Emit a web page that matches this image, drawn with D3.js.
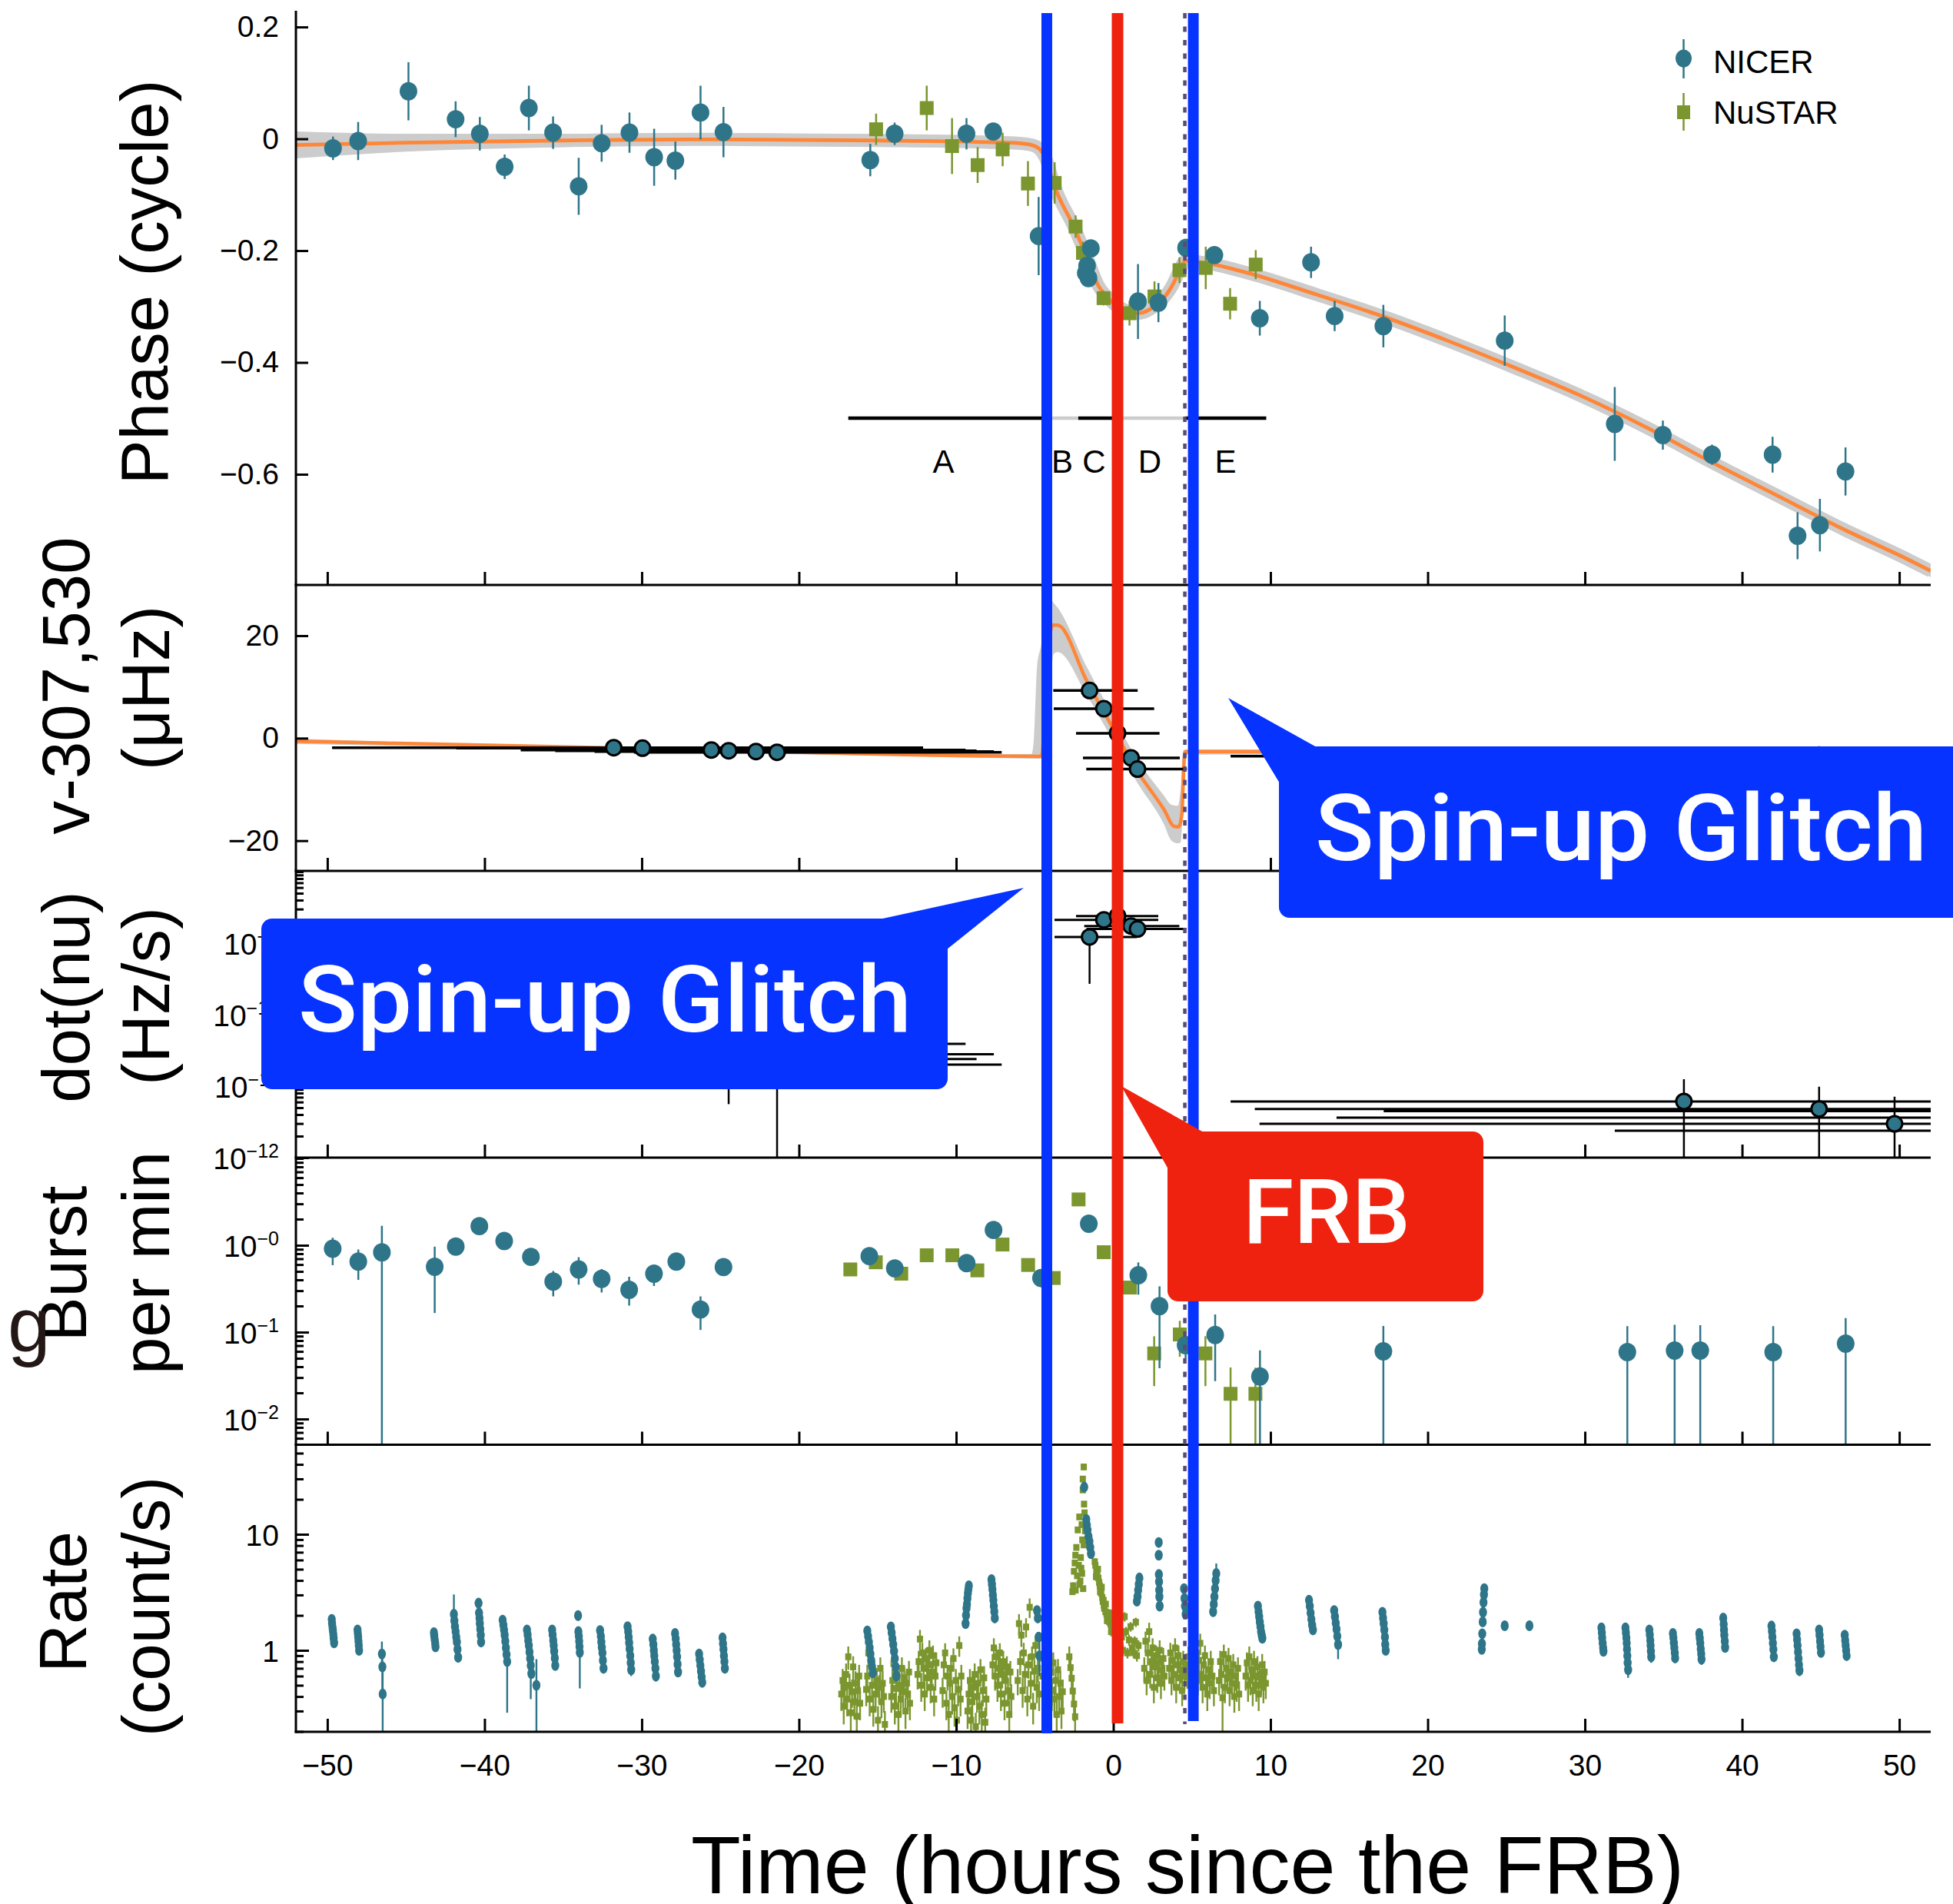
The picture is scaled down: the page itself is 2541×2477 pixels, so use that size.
<!DOCTYPE html>
<html>
<head>
<meta charset="utf-8">
<script src="https://cdn.jsdelivr.net/npm/d3@7"></script>
<style>
  html, body { margin: 0; padding: 0; background: #fff; }
  svg { display: block; }
</style>
</head>
<body>
<svg id="chart" width="2541" height="2477"></svg>
<script>
// ---------------- data ----------------
const xTickValues = [-50, -40, -30, -20, -10, 0, 10, 20, 30, 40, 50];

// event times (hours since the FRB)
const glitchTimes = [-4.23, 5.09];
const frbTime = 0.27;
const dottedTime = 4.55;

// timing periods shown under the phase curve
const periodEdges = [-16.86, -4.23, -2.23, 0.27, 4.55, 9.73];
const periodNames = ["A", "B", "C", "D", "E"];
const periodLabelAt = [-10.8, -3.25, -1.23, 2.32, 7.14];
const periodShade = ["#000", "#cccccc", "#000", "#cccccc", "#000"];

// pulse phase (cycle): [t, phase, err]
const phaseNicer = [
  [-49.64,-0.017,0.021],[-48.04,-0.004,0.034],[-44.84,0.085,0.052],[-41.84,0.035,0.032],
  [-40.30,0.009,0.030],[-38.72,-0.050,0.022],[-37.18,0.055,0.040],[-35.64,0.011,0.029],
  [-34.01,-0.085,0.051],[-32.55,-0.008,0.033],[-30.78,0.011,0.036],[-29.21,-0.033,0.051],
  [-27.86,-0.039,0.034],[-26.26,0.047,0.048],[-24.80,0.012,0.045],[-15.46,-0.038,0.029],
  [-13.91,0.009,0.020],[-9.34,0.009,0.028],[-7.64,0.013,0.008],[-4.75,-0.174,0.070],
  [-1.43,-0.196,0.015],[-1.67,-0.227,0.012],[-1.75,-0.240,0.012],[-1.58,-0.249,0.012],
  [1.57,-0.291,0.067],[2.87,-0.293,0.035],[4.63,-0.195,0.015],[6.43,-0.208,0.015],
  [9.32,-0.321,0.031],[12.58,-0.221,0.028],[14.08,-0.317,0.027],[17.18,-0.335,0.038],
  [24.90,-0.361,0.045],[31.90,-0.510,0.066],[34.96,-0.530,0.026],[38.09,-0.565,0.018],
  [41.94,-0.565,0.032],[43.53,-0.710,0.042],[44.95,-0.691,0.047],[46.58,-0.595,0.043]
];
const phaseNustar = [
  [-15.09,0.017,0.028],[-11.87,0.055,0.040],[-10.26,-0.013,0.050],[-8.63,-0.047,0.032],
  [-7.04,-0.019,0.030],[-5.43,-0.080,0.040],[-3.73,-0.079,0.037],[-2.40,-0.157,0.020],
  [-1.93,-0.204,0.020],[-0.62,-0.285,0.013],[1.03,-0.312,0.022],[2.62,-0.282,0.027],
  [4.21,-0.235,0.023],[5.88,-0.231,0.038],[7.43,-0.295,0.028],[9.06,-0.225,0.026]
];
// timing model: [t, phase, half width of the uncertainty band]
const phaseModel = [
  [-52,-0.011,0.024],[-45,-0.007,0.016],[-35,-0.003,0.012],[-27,-0.001,0.011],[-15,-0.003,0.011],
  [-8,-0.006,0.011],[-6,-0.008,0.011],[-5.2,-0.011,0.011],[-4.67,-0.019,0.012],[-4.3,-0.035,0.012],
  [-3.74,-0.085,0.012],[-2.48,-0.159,0.012],[-1.5,-0.225,0.012],[-1.02,-0.259,0.012],[-0.4,-0.283,0.012],
  [0.03,-0.295,0.012],[0.7,-0.306,0.012],[1.28,-0.312,0.012],[1.8,-0.311,0.012],[2.33,-0.305,0.012],
  [2.9,-0.293,0.012],[3.37,-0.279,0.012],[3.8,-0.26,0.012],[4.21,-0.235,0.012],[4.45,-0.222,0.012],
  [4.62,-0.218,0.011],[5.0,-0.219,0.011],[5.88,-0.222,0.011],[8.81,-0.242,0.011],[12.98,-0.279,0.011],
  [17.18,-0.318,0.011],[21.35,-0.362,0.011],[25.5,-0.409,0.011],[29.7,-0.459,0.011],[33.9,-0.516,0.011],
  [38.1,-0.579,0.011],[42.3,-0.639,0.011],[46.5,-0.699,0.011],[50.6,-0.753,0.011],[52,-0.773,0.011]
];

// spin frequency offset (μHz): model [t, value] and band [t, lo, hi]
const nuModel = [
  [-52,-0.6],[-30,-2.0],[-7,-3.5],[-4.7,-3.55],[-4.55,-3.3],[-4.3,8],[-3.95,21.5],[-3.82,22.05],
  [-3.55,22.05],[-1.67,11.05],[-0.04,2.05],[1.59,-6.69],[3.22,-13.9],[3.87,-17.2],[4.15,-17.3],
  [4.36,-14.9],[4.52,-3.9],[4.61,-2.6],[52,-2.6]
];
const nuBand = [
  [-52,-1.1,-0.1],[-7,-3.9,-3.1],[-5.2,-4.0,-3.1],[-5.05,-4.0,0],[-4.85,-4.0,14],[-4.6,-4.0,18],
  [-4.3,-3.0,24],[-3.95,12,27],[-3.82,16.3,26.5],[-3.55,16.8,25.5],[-1.67,8.3,13.8],[-0.04,-0.4,4.4],
  [1.59,-9.0,-4.4],[3.22,-16.8,-11.2],[3.7,-20.0,-13.0],[4.1,-20.5,-13.2],[4.28,-20.4,-10],
  [4.45,-12,-2.4],[4.6,-3.2,-2.2],[52,-3.1,-2.2]
];
// measured frequency: [t, value, t_lo, t_hi]
const nuObs = [
  [-31.78,-1.86,-49.7,-12.1],[-29.95,-1.95,-41.8,-13.3],[-25.57,-2.3,-37.7,-9.4],
  [-24.47,-2.45,-35.5,-8.7],[-22.73,-2.6,-33.0,-7.6],[-21.39,-2.75,-30.5,-7.1],
  [-1.51,9.31,-3.82,1.55],[-0.60,5.76,-3.79,2.6],[0.27,0.96,-2.37,2.94],
  [1.13,-3.84,-1.93,4.23],[1.54,-6.04,-1.72,4.68],
  [36.3,-3.53,7.46,70],[44.9,-3.3,11.0,75],[49.7,-3.6,13.0,80]
];

// frequency derivative (Hz/s): [t, value, t_lo, t_hi, v_lo, v_hi]
const nuDot = [
  [-31.78,3.9e-11,-49.0,-9.4,3.3e-11,4.6e-11],[-29.95,2.4e-11,-46.0,-8.7,2.0e-11,2.9e-11],
  [-25.57,2.8e-11,-40.0,-7.6,2.3e-11,3.4e-11],[-24.47,2.0e-11,-38.0,-7.1,5.6e-12,3.5e-11],
  [-22.73,3.2e-11,-35.0,-11.0,2.6e-11,3.9e-11],[-21.39,1.26e-11,-33.0,-12.0,1e-14,2.2e-11],
  [-1.51,1.22e-9,-3.74,1.5,2.7e-10,1.4e-9],[-0.60,2.12e-9,-3.74,2.86,1.9e-9,2.35e-9],
  [0.27,2.4e-9,-2.37,2.86,2.15e-9,2.65e-9],[1.13,1.74e-9,-1.85,4.2,1.6e-9,1.9e-9],
  [1.54,1.58e-9,-1.7,4.65,1.45e-9,1.72e-9],
  [36.3,6.1e-12,7.46,70,1e-14,1.25e-11],[44.9,4.8e-12,9.0,75,1e-14,9.8e-12],
  [49.7,2.97e-12,9.3,80,1e-14,7.1e-12],[57.0,4.48e-12,17.2,90,4e-12,5e-12],
  [60.0,3.63e-12,14.2,95,3.3e-12,4e-12],[63.0,2.38e-12,31.9,100,2.2e-12,2.6e-12]
];

// burst rate (per min): [t, rate, lo, hi]
const burstNicer = [
  [-49.66,0.914,0.59,1.22],[-48.03,0.649,0.40,0.895],[-46.53,0.83,0.0001,1.67],[-43.17,0.566,0.166,0.964],
  [-41.83,0.964,0.9,1.03],[-40.33,1.66,1.55,1.77],[-38.75,1.12,1.05,1.2],[-37.05,0.735,0.66,0.81],
  [-35.63,0.382,0.258,0.506],[-34.01,0.527,0.352,0.728],[-32.55,0.41,0.286,0.532],[-30.8,0.307,0.202,0.434],
  [-29.22,0.471,0.34,0.59],[-27.8,0.649,0.54,0.75],[-26.26,0.182,0.106,0.258],[-24.8,0.561,0.46,0.68],
  [-15.52,0.75,0.68,0.82],[-13.9,0.542,0.49,0.6],[-9.33,0.622,0.5,0.68],[-7.62,1.5,1.4,1.6],
  [-4.6,0.42,0.33,0.5],[-1.56,1.77,1.65,1.9],[1.59,0.452,0.27,0.635],[2.94,0.199,0.0384,0.337],
  [4.6,0.0708,0.05,0.09],[6.48,0.0927,0.0273,0.16],[9.33,0.0309,0.0001,0.0617],[17.18,0.0601,0.0001,0.118],
  [32.7,0.0589,0.0001,0.117],[35.71,0.0614,0.0001,0.1216],[37.34,0.0614,0.0001,0.12],
  [41.98,0.0589,0.0001,0.117],[46.59,0.0738,0.0001,0.145]
];
const burstNustar = [
  [-16.73,0.527,0.5,0.55],[-15.11,0.637,0.6,0.67],[-13.49,0.471,0.45,0.5],[-11.87,0.767,0.73,0.8],
  [-10.24,0.767,0.73,0.8],[-8.65,0.514,0.49,0.54],[-7.05,1.02,0.97,1.07],[-5.42,0.593,0.56,0.62],
  [-3.79,0.42,0.4,0.44],[-2.21,3.37,3.2,3.5],[-0.61,0.832,0.79,0.87],[1.05,0.326,0.3,0.35],
  [2.6,0.0569,0.0239,0.0897],[4.23,0.094,0.052,0.135],[5.86,0.0569,0.0239,0.0897],
  [7.46,0.0195,0.0001,0.0392],[9.04,0.0195,0.0001,0.039]
];

// count rate (count/s): [t, rate, err] or [t, rate, lo, hi]
const rateNicer = [
  [-49.72,1.85,0.1],[-49.7,1.7,0.1],[-49.67,1.58,0.09],[-49.65,1.48,0.09],[-49.62,1.38,0.09],[-49.6,1.27,0.08],[-49.57,1.16,0.08],
  [-48.08,1.5,0.09],[-48.06,1.4,0.09],[-48.04,1.3,0.08],[-48.02,1.2,0.08],[-48.0,1.1,0.08],[-47.98,1.0,0.07],
  [-46.53,0.93,0.26],[-46.5,0.72,0.3],[-46.48,0.42,0.0001,0.75],
  [-43.22,1.42,0.1],[-43.2,1.33,0.09],[-43.17,1.24,0.09],[-43.14,1.15,0.08],[-43.12,1.07,0.08],
  [-41.95,2.05,1.69,3.03],[-41.92,1.8,0.12],[-41.88,1.6,0.1],[-41.84,1.45,0.1],[-41.8,1.3,0.09],[-41.76,1.18,0.08],[-41.72,1.02,0.08],[-41.68,0.87,0.07],
  [-40.38,2.55,0.12],[-40.35,2.1,0.11],[-40.32,1.9,0.1],[-40.3,1.7,0.1],[-40.27,1.52,0.09],[-40.24,1.35,0.09],[-40.22,1.18,0.08],
  [-38.85,1.82,0.11],[-38.8,1.65,0.1],[-38.76,1.5,0.1],[-38.72,1.35,0.09],[-38.68,1.2,0.09],[-38.64,1.05,0.08],[-38.6,0.92,0.08],[-38.56,0.8,0.29,1.0],
  [-37.3,1.5,0.09],[-37.26,1.36,0.09],[-37.22,1.22,0.08],[-37.18,1.1,0.08],[-37.14,0.97,0.07],[-37.1,0.85,0.07],[-37.06,0.74,0.38,0.9],[-37.02,0.63,0.06],
  [-36.7,0.5,0.0001,0.84],
  [-35.7,1.5,0.09],[-35.67,1.36,0.09],[-35.63,1.22,0.08],[-35.6,1.1,0.08],[-35.57,0.98,0.07],[-35.53,0.86,0.07],[-35.5,0.74,0.06],
  [-34.05,1.99,0.1],[-34.03,1.45,0.09],[-34.0,1.32,0.09],[-33.98,1.2,0.08],[-33.96,1.08,0.08],[-33.94,0.96,0.47,1.1],
  [-32.65,1.48,0.09],[-32.6,1.32,0.09],[-32.57,1.18,0.08],[-32.54,1.06,0.08],[-32.5,0.95,0.07],[-32.47,0.82,0.07],[-32.43,0.7,0.06],
  [-30.9,1.6,0.1],[-30.86,1.45,0.09],[-30.83,1.3,0.09],[-30.8,1.16,0.08],[-30.77,1.03,0.08],[-30.73,0.9,0.07],[-30.7,0.78,0.07],[-30.67,0.68,0.08],
  [-29.3,1.25,0.09],[-29.26,1.12,0.08],[-29.23,1.0,0.08],[-29.2,0.9,0.07],[-29.17,0.8,0.07],[-29.13,0.7,0.06],[-29.1,0.6,0.06],
  [-27.88,1.4,0.09],[-27.84,1.26,0.09],[-27.81,1.12,0.08],[-27.78,1.0,0.08],[-27.75,0.88,0.07],[-27.72,0.76,0.07],[-27.69,0.65,0.06],
  [-26.35,0.93,0.07],[-26.31,0.83,0.07],[-26.27,0.74,0.06],[-26.23,0.66,0.06],[-26.19,0.59,0.05],[-26.15,0.53,0.05],
  [-24.86,1.28,0.09],[-24.83,1.14,0.08],[-24.8,1.02,0.08],[-24.77,0.9,0.07],[-24.74,0.8,0.07],[-24.71,0.7,0.06],
  [-15.65,1.47,0.1],[-15.6,1.32,0.09],[-15.55,1.18,0.08],[-15.5,1.05,0.08],[-15.45,0.93,0.07],[-15.4,0.82,0.07],[-15.35,0.72,0.06],[-15.3,0.64,0.06],
  [-14.15,1.59,0.1],[-14.1,1.42,0.09],[-14.05,1.26,0.09],[-14.0,1.12,0.08],[-13.95,0.98,0.08],[-13.9,0.85,0.07],[-13.85,0.72,0.07],[-13.8,0.6,0.06],
  [-9.4,1.7,0.1],[-9.37,2.0,0.1],[-9.34,2.3,0.12],[-9.31,2.5,0.12],[-9.28,2.8,0.13],[-9.25,3.1,0.14],[-9.22,3.35,0.15],[-9.19,3.6,0.16],
  [-7.75,4.07,0.16],[-7.72,3.7,0.15],[-7.69,3.35,0.14],[-7.66,3.0,0.13],[-7.63,2.7,0.12],[-7.6,2.4,0.12],[-7.57,2.15,0.11],[-7.54,1.9,0.1],
  [-4.85,2.2,0.12],[-4.8,1.9,0.1],[-4.75,1.3,0.09],[-4.7,0.9,0.3],
  [-1.85,25.5,1.2],[-1.72,13.4,0.8],[-1.68,12.0,0.7],[-1.64,10.9,0.6],[-1.58,9.6,0.5],[-1.52,8.7,0.5],[-1.47,7.7,0.4],[-1.42,6.8,0.4],
  [1.5,2.65,0.12],[1.54,2.9,0.13],[1.58,3.3,0.14],[1.62,3.7,0.15],[1.66,4.2,0.16],
  [2.89,8.5,0.4],[2.89,6.6,0.35],[2.9,4.5,0.25],[2.91,3.9,0.2],[2.92,3.3,0.18],[2.93,2.9,0.16],[2.95,2.4,0.14],
  [4.5,3.4,0.16],[4.53,2.8,0.14],[4.56,2.4,0.12],[4.6,2.05,0.11],
  [6.35,2.15,0.11],[6.39,2.5,0.12],[6.43,2.9,0.13],[6.47,3.4,0.15],[6.51,4.0,0.17],[6.55,4.6,4.3,5.6],
  [9.2,2.4,0.12],[9.24,2.15,0.11],[9.28,1.95,0.1],[9.32,1.75,0.1],[9.36,1.6,0.09],[9.4,1.45,0.09],[9.44,1.35,0.08],[9.48,1.27,0.08],
  [12.45,2.7,0.13],[12.5,2.4,0.12],[12.55,2.1,0.11],[12.6,1.85,0.1],[12.65,1.65,0.09],[12.7,1.5,0.09],
  [14.05,2.2,0.12],[14.1,1.95,0.11],[14.15,1.72,0.1],[14.2,1.52,0.09],[14.25,1.32,0.08],[14.3,1.12,0.28],
  [17.12,2.13,0.11],[17.16,1.9,0.1],[17.2,1.7,0.1],[17.24,1.5,0.09],[17.28,1.3,0.08],[17.3,1.12,0.2],[17.33,1.0,0.08],
  [23.6,3.4,0.16],[23.58,3.02,0.15],[23.55,2.59,0.13],[23.52,2.13,0.11],[23.5,1.76,0.1],[23.47,1.39,0.09],[23.45,1.14,0.08],[23.44,1.02,0.07],
  [24.9,1.63,0.09],[26.47,1.63,0.12],
  [31.05,1.56,0.09],[31.08,1.42,0.09],[31.1,1.28,0.08],[31.13,1.15,0.08],[31.16,1.05,0.07],[31.18,0.98,0.07],
  [32.58,1.56,0.09],[32.61,1.42,0.09],[32.64,1.28,0.08],[32.66,1.15,0.08],[32.68,1.02,0.07],[32.7,0.9,0.07],[32.72,0.78,0.07],[32.75,0.68,0.1],
  [34.1,1.5,0.09],[34.13,1.36,0.09],[34.16,1.22,0.08],[34.18,1.1,0.08],[34.2,0.98,0.07],[34.22,0.88,0.1],
  [35.6,1.4,0.09],[35.63,1.28,0.08],[35.66,1.16,0.08],[35.69,1.05,0.07],[35.72,0.95,0.07],[35.74,0.86,0.08],
  [37.28,1.4,0.09],[37.31,1.27,0.08],[37.34,1.15,0.08],[37.37,1.03,0.07],[37.4,0.93,0.07],[37.42,0.84,0.09],
  [38.8,1.9,0.1],[38.83,1.68,0.1],[38.85,1.5,0.09],[38.87,1.35,0.09],[38.9,1.2,0.08],[38.92,1.06,0.08],
  [41.87,1.62,0.1],[41.9,1.46,0.09],[41.93,1.3,0.08],[41.96,1.15,0.08],[41.99,1.02,0.07],[42.02,0.88,0.07],
  [43.47,1.39,0.09],[43.5,1.24,0.08],[43.53,1.1,0.08],[43.56,0.97,0.07],[43.59,0.85,0.07],[43.62,0.75,0.12],[43.65,0.67,0.07],
  [44.9,1.5,0.09],[44.93,1.35,0.09],[44.96,1.2,0.08],[44.99,1.08,0.08],[45.02,0.96,0.07],
  [46.53,1.35,0.08],[46.56,1.22,0.08],[46.59,1.1,0.07],[46.62,1.0,0.07],[46.65,0.9,0.07]
];
const rateNustar = [
  [-17.3,0.42,0.12],[-17.22,0.55,0.14],[-17.15,0.33,0.1],[-17.08,0.48,0.13],[-17.0,0.62,0.15],[-16.93,0.38,0.11],[-16.86,0.88,0.2],[-16.78,0.5,0.13],[-16.7,0.29,0.09],[-16.62,0.44,0.12],[-16.55,0.72,0.17],[-16.47,0.36,0.1],[-16.4,0.52,0.14],[-16.32,0.27,0.08],[-16.25,0.45,0.12],[-16.17,0.6,0.15],[-16.11,0.35,0.1],
  [-15.72,0.46,0.13],[-15.65,0.6,0.15],[-15.58,0.95,0.2],[-15.5,0.38,0.11],[-15.42,0.77,0.18],[-15.35,0.5,0.13],[-15.27,0.31,0.09],[-15.2,0.66,0.16],[-15.12,0.42,0.12],[-15.05,0.55,0.14],[-14.97,0.25,0.08],[-14.9,0.48,0.13],[-14.82,0.7,0.17],[-14.75,0.36,0.1],[-14.67,0.52,0.14],[-14.6,0.4,0.11],[-14.53,0.23,0.07],
  [-14.12,0.4,0.11],[-14.05,0.55,0.14],[-13.98,0.77,0.18],[-13.9,0.33,0.1],[-13.82,0.47,0.13],[-13.75,0.62,0.15],[-13.67,0.28,0.09],[-13.6,0.5,0.13],[-13.52,0.38,0.11],[-13.45,0.7,0.17],[-13.37,0.44,0.12],[-13.3,0.58,0.15],[-13.22,0.3,0.09],[-13.15,0.52,0.14],[-13.07,0.42,0.12],[-13.0,0.65,0.16],[-12.94,0.35,0.1],
  [-12.45,0.62,0.16],[-12.38,0.8,0.19],[-12.3,1.25,0.25],[-12.22,0.5,0.14],[-12.15,0.95,0.21],[-12.07,0.7,0.17],[-12.0,0.42,0.12],[-11.92,0.85,0.2],[-11.85,0.58,0.15],[-11.77,0.75,0.18],[-11.7,1.0,0.22],[-11.62,0.48,0.13],[-11.55,0.65,0.16],[-11.47,0.9,0.2],[-11.4,0.38,0.11],[-11.32,0.6,0.15],[-11.26,0.78,0.18],
  [-10.86,0.45,0.13],[-10.78,0.75,0.18],[-10.7,0.95,0.2],[-10.62,0.35,0.1],[-10.55,0.6,0.15],[-10.47,0.28,0.09],[-10.4,0.52,0.14],[-10.32,0.7,0.17],[-10.25,0.4,0.12],[-10.17,0.85,0.19],[-10.1,0.32,0.1],[-10.02,0.55,0.14],[-9.95,0.25,0.08],[-9.87,0.46,0.13],[-9.8,1.1,0.22],[-9.72,0.38,0.11],[-9.67,0.6,0.15],
  [-9.27,0.3,0.09],[-9.2,0.42,0.12],[-9.12,0.55,0.14],[-9.05,0.25,0.08],[-8.97,0.36,0.1],[-8.9,0.48,0.13],[-8.82,0.62,0.15],[-8.75,0.22,0.07],[-8.67,0.4,0.11],[-8.6,0.52,0.14],[-8.52,0.33,0.1],[-8.45,0.68,0.16],[-8.37,0.28,0.09],[-8.3,0.45,0.12],[-8.22,0.58,0.15],[-8.15,0.24,0.08],[-8.08,0.38,0.11],
  [-7.68,0.75,0.18],[-7.6,1.05,0.22],[-7.52,0.6,0.15],[-7.45,0.88,0.2],[-7.37,0.5,0.14],[-7.3,0.7,0.17],[-7.22,0.95,0.2],[-7.15,0.42,0.12],[-7.07,0.62,0.15],[-7.0,0.8,0.19],[-6.92,0.35,0.1],[-6.85,0.55,0.14],[-6.77,0.72,0.17],[-6.7,0.45,0.12],[-6.62,0.28,0.09],[-6.55,0.65,0.16],[-6.49,0.4,0.11],
  [-6.08,0.55,0.14],[-6.0,1.7,0.35],[-5.92,0.8,0.19],[-5.85,1.35,0.28],[-5.77,0.45,0.13],[-5.7,0.95,0.21],[-5.62,0.62,0.15],[-5.55,1.59,0.3],[-5.47,0.38,0.11],[-5.4,0.75,0.18],[-5.32,2.35,0.45],[-5.25,0.52,0.14],[-5.17,0.88,0.2],[-5.1,0.33,0.1],[-5.02,0.66,0.16],[-4.95,1.1,0.23],[-4.87,0.48,0.13],[-4.8,0.7,0.17],[-4.72,0.42,0.12],
  [-4.5,0.6,0.15],[-4.42,0.85,0.2],[-4.35,0.42,0.12],[-4.27,0.7,0.17],[-4.2,0.95,0.21],[-4.12,0.5,0.14],[-4.05,0.32,0.1],[-3.97,0.65,0.16],[-3.9,0.45,0.12],[-3.82,0.78,0.18],[-3.75,0.38,0.11],[-3.67,0.55,0.14],[-3.6,0.28,0.09],[-3.52,0.68,0.16],[-3.45,0.4,0.11],[-3.37,0.52,0.14],[-3.3,0.3,0.09],[-3.22,0.44,0.12],
  [-2.8,0.88,0.2],[-2.72,0.71,0.17],[-2.65,0.575,0.15],[-2.58,0.446,0.12],[-2.5,0.345,0.1],[-2.43,0.268,0.08],
  [-2.6,3.2,0.2],[-2.55,3.6,0.25],[-2.5,4.8,0.3],[-2.45,5.66,0.3],[-2.41,6.6,0.3],[-2.4,3.3,0.2],[-2.35,7.7,0.35],[-2.3,4.39,0.25],[-2.26,10.9,0.5],[-2.2,5.4,0.3],[-2.16,14.1,0.6],[-2.15,3.7,0.2],[-2.1,3.95,0.25],[-2.07,6.3,0.3],[-2.04,5.1,0.3],[-2.01,12.1,0.5],[-1.99,4.6,0.3],[-1.97,8.95,0.4],[-1.94,29.9,1.0],[-1.94,24.1,0.9],[-1.92,3.4,0.2],[-1.88,38,1.2],[-1.88,8.1,0.4],[-1.86,18.2,0.7],[-1.83,15.3,0.6],[-1.79,10.7,0.5],
  [-1.18,5.8,0.4],[-1.14,5.4,0.35],[-1.08,4.9,0.3],[-1.02,4.5,0.3],[-0.95,4.2,0.3],[-0.9,3.85,0.25],[-0.86,3.6,0.25],[-0.8,3.3,0.22],[-0.77,3.1,0.22],[-0.7,2.85,0.2],[-0.67,2.64,0.2],[-0.6,2.45,0.18],[-0.58,2.3,0.18],[-0.5,2.15,0.16],[-0.43,2.05,0.16],[-0.36,1.95,0.15],[-0.3,1.85,0.15],[-0.22,1.75,0.14],[-0.17,1.67,0.14],[-0.1,1.6,0.13],
  [-1.1,4.3,0.3],[-0.98,5.0,0.3],[-0.84,3.2,0.22],[-0.74,3.5,0.25],[-0.62,2.7,0.2],[-0.48,2.5,0.18],[-0.4,1.8,0.15],[-0.26,2.1,0.16],[-0.14,1.45,0.13],
  [0.02,1.5,0.15],[0.07,1.95,0.18],[0.15,1.4,0.14],[0.22,1.7,0.16],[0.3,1.25,0.13],[0.35,1.59,0.15],[0.45,1.1,0.12],[0.54,1.3,0.13],[0.62,1.0,0.11],[0.72,1.95,0.18],[0.8,1.45,0.14],[0.9,0.95,0.1],[1.0,1.23,0.13],[1.1,1.6,0.15],[1.19,1.05,0.11],[1.29,0.955,0.1],[1.36,1.2,0.12],[1.43,1.75,0.16],[1.5,0.9,0.1],[1.6,1.1,0.12],
  [1.97,0.7,0.17],[2.05,1.2,0.25],[2.12,0.55,0.14],[2.2,0.95,0.21],[2.28,1.45,0.28],[2.35,0.62,0.15],[2.43,0.8,0.19],[2.5,1.05,0.22],[2.58,0.48,0.13],[2.65,0.72,0.17],[2.73,0.9,0.2],[2.8,0.58,0.15],[2.88,0.78,0.18],[2.95,1.0,0.22],[3.03,0.52,0.14],[3.1,0.68,0.16],[3.18,0.85,0.2],[3.25,0.6,0.15],
  [3.56,0.7,0.17],[3.63,0.95,0.21],[3.7,0.55,0.14],[3.78,0.82,0.19],[3.85,0.62,0.15],[3.93,1.05,0.22],[4.0,0.48,0.13],[4.08,0.75,0.18],[4.15,0.9,0.2],[4.23,0.58,0.15],[4.3,0.68,0.16],[4.38,0.45,0.12],[4.45,0.8,0.19],[4.53,0.6,0.15],[4.6,0.72,0.17],
  [4.7,0.65,0.16],[4.78,0.88,0.2],[4.85,0.5,0.14],[4.93,1.0,0.22],[5.0,0.6,0.15],[5.08,0.78,0.18],[5.15,0.45,0.12],[5.23,0.95,0.21],[5.3,0.7,0.17],[5.38,0.55,0.14],[5.45,0.82,0.19],[5.53,1.15,0.24],[5.6,0.62,0.15],[5.68,0.48,0.13],[5.75,0.75,0.18],[5.83,0.9,0.2],[5.9,0.58,0.15],[5.98,0.42,0.12],[6.05,0.68,0.16],[6.13,0.52,0.14],[6.2,0.8,0.19],[6.3,0.6,0.15],[6.4,0.45,0.12],
  [6.73,0.55,0.14],[6.8,0.8,0.19],[6.88,0.62,0.15],[6.95,0.39,0.0001,0.5],[7.03,0.92,0.2],[7.1,0.48,0.13],[7.18,0.7,0.17],[7.25,0.58,0.15],[7.33,0.85,0.2],[7.4,0.45,0.12],[7.48,0.65,0.16],[7.55,0.52,0.14],[7.63,0.75,0.18],[7.7,0.4,0.11],[7.78,0.6,0.15],[7.85,0.5,0.14],[7.93,0.7,0.17],[8.0,0.42,0.12],
  [8.42,0.6,0.15],[8.5,0.78,0.18],[8.57,0.5,0.14],[8.65,0.88,0.2],[8.72,0.55,0.14],[8.8,0.68,0.16],[8.87,0.45,0.12],[8.95,0.8,0.19],[9.02,0.6,0.15],[9.1,0.5,0.14],[9.17,0.72,0.17],[9.25,0.42,0.12],[9.32,0.62,0.15],[9.4,0.55,0.14],[9.47,0.75,0.18],[9.55,0.48,0.13],[9.62,0.65,0.16],[9.7,0.52,0.14]
];

// ---------------- layout & scales ----------------
const FONT = '"Liberation Sans", Arial, Helvetica, sans-serif';
const CALLOUT_FONT = 'Roboto, "Liberation Sans", Arial, sans-serif';
const NICER = "#2f7589", NUSTAR = "#7b962f", ORANGE = "#ff8637", BAND = "#cccccc";
const BLUE = "#0633ff", RED = "#ee220f", DOTS = "#5a4a78";
const X0 = 385, X1 = 2512;

const panels = {
  phase: { top: 14, bottom: 761 },
  nu: { top: 761, bottom: 1133 },
  dot: { top: 1133, bottom: 1506 },
  burst: { top: 1506, bottom: 1879.5 },
  rate: { top: 1879.5, bottom: 2253 }
};

const x = d3.scaleLinear().domain([-52, 52]).range([X0, X1]);
const yPhase = d3.scaleLinear().domain([-0.798, 0.229]).range([761, 14]);
const yNu = d3.scaleLinear().domain([-25.9, 29.9]).range([1133, 761]);
const yDot = d3.scaleLog().domain([1e-12, 1e-8]).range([1506, 1134]);
const yBurst = d3.scaleLog().domain([Math.pow(10, -2.296), Math.pow(10, 1.009)]).range([1879.5, 1506]);
const yRate = d3.scaleLog().domain([Math.pow(10, -0.702), Math.pow(10, 1.7715)]).range([2253, 1879.5]);

const svg = d3.select("#chart").attr("font-family", FONT);
svg.append("rect").attr("width", 2541).attr("height", 2477).attr("fill", "#fff");

const defs = svg.append("defs");
Object.entries(panels).forEach(([k, p]) => {
  defs.append("clipPath").attr("id", "clip-" + k)
    .append("rect").attr("x", X0).attr("y", p.top).attr("width", X1 - X0).attr("height", p.bottom - p.top);
});
const layer = k => svg.append("g").attr("clip-path", `url(#clip-${k})`);

// normalise [t, v, err] / [t, v, lo, hi]
function norm(d) {
  if (d.length >= 4) return { t: d[0], v: d[1], lo: d[2], hi: d[3] };
  return { t: d[0], v: d[1], lo: d[1] - d[2], hi: d[1] + d[2] };
}

function errorPoints(g, data, y, shape, size, color, barW, isLog, stretch) {
  const pts = data.map(norm);
  const safe = v => isLog ? Math.max(v, 1e-15) : v;
  g.append("g").selectAll("line").data(pts).join("line")
    .attr("x1", d => x(d.t)).attr("x2", d => x(d.t))
    .attr("y1", d => y(safe(d.lo))).attr("y2", d => y(safe(d.hi)))
    .attr("stroke", color).attr("stroke-width", barW);
  if (shape === "circle") {
    g.append("g").selectAll("ellipse").data(pts).join("ellipse")
      .attr("cx", d => x(d.t)).attr("cy", d => y(d.v))
      .attr("rx", size).attr("ry", size * (stretch || 1.04)).attr("fill", color);
  } else {
    g.append("g").selectAll("rect").data(pts).join("rect")
      .attr("x", d => x(d.t) - size / 2).attr("y", d => y(d.v) - size * (stretch || 1) / 2)
      .attr("width", size).attr("height", size * (stretch || 1)).attr("fill", color);
  }
}

// ---------------- panel 1: phase ----------------
{
  const g = layer("phase");
  const area = d3.area().x(d => x(d[0])).y0(d => yPhase(d[1] - d[2])).y1(d => yPhase(d[1] + d[2]))
    .curve(d3.curveMonotoneX);
  const line = d3.line().x(d => x(d[0])).y(d => yPhase(d[1])).curve(d3.curveMonotoneX);
  g.append("path").attr("d", area(phaseModel)).attr("fill", BAND);
  g.append("path").attr("d", line(phaseModel)).attr("fill", "none").attr("stroke", BAND)
    .attr("stroke-width", 17).attr("stroke-linejoin", "round");
  g.append("path").attr("d", line(phaseModel)).attr("fill", "none").attr("stroke", ORANGE)
    .attr("stroke-width", 4.8);

  // period bars
  const segY = 544;
  periodNames.forEach((n, i) => {
    g.append("line").attr("x1", x(periodEdges[i])).attr("x2", x(periodEdges[i + 1]))
      .attr("y1", segY).attr("y2", segY).attr("stroke", periodShade[i]).attr("stroke-width", 4.5);
    g.append("text").attr("x", x(periodLabelAt[i])).attr("y", 615).attr("text-anchor", "middle")
      .attr("font-size", 42).attr("fill", "#000").text(n);
  });

  errorPoints(g, phaseNustar, yPhase, "square", 18, NUSTAR, 2.5, false);
  errorPoints(g, phaseNicer, yPhase, "circle", 11.5, NICER, 2.5, false);
}

// ---------------- panel 2: frequency ----------------
{
  const g = layer("nu");
  const area = d3.area().x(d => x(d[0])).y0(d => yNu(d[1])).y1(d => yNu(d[2])).curve(d3.curveMonotoneX);
  const line = d3.line().x(d => x(d[0])).y(d => yNu(d[1])).curve(d3.curveMonotoneX);
  g.append("path").attr("d", area(nuBand)).attr("fill", BAND);
  g.append("path").attr("d", line(nuModel)).attr("fill", "none").attr("stroke", ORANGE).attr("stroke-width", 4.5);
  g.append("g").selectAll("line").data(nuObs).join("line")
    .attr("x1", d => x(d[2])).attr("x2", d => x(d[3]))
    .attr("y1", d => yNu(d[1])).attr("y2", d => yNu(d[1]))
    .attr("stroke", "#000").attr("stroke-width", 3.5);
  g.append("g").selectAll("circle").data(nuObs).join("circle")
    .attr("cx", d => x(d[0])).attr("cy", d => yNu(d[1])).attr("r", 10)
    .attr("fill", NICER).attr("stroke", "#000").attr("stroke-width", 3);
}

// ---------------- panel 3: frequency derivative ----------------
{
  const g = layer("dot");
  g.append("g").selectAll("line").data(nuDot).join("line")
    .attr("x1", d => x(d[2])).attr("x2", d => x(d[3]))
    .attr("y1", d => yDot(d[1])).attr("y2", d => yDot(d[1]))
    .attr("stroke", "#000").attr("stroke-width", 3);
  g.append("g").selectAll("line").data(nuDot).join("line")
    .attr("x1", d => x(d[0])).attr("x2", d => x(d[0]))
    .attr("y1", d => yDot(d[4])).attr("y2", d => yDot(d[5]))
    .attr("stroke", "#000").attr("stroke-width", 2.5);
  g.append("g").selectAll("circle").data(nuDot).join("circle")
    .attr("cx", d => x(d[0])).attr("cy", d => yDot(d[1])).attr("r", 10)
    .attr("fill", NICER).attr("stroke", "#000").attr("stroke-width", 3);
}

// ---------------- panel 4: burst rate ----------------
{
  const g = layer("burst");
  errorPoints(g, burstNustar, yBurst, "square", 18, NUSTAR, 2.5, true);
  errorPoints(g, burstNicer, yBurst, "circle", 11.5, NICER, 2.5, true);
}

// ---------------- panel 5: count rate ----------------
{
  const g = layer("rate");
  errorPoints(g, rateNustar, yRate, "square", 8, NUSTAR, 2.4, true, 1.1);
  errorPoints(g, rateNicer, yRate, "circle", 5.2, NICER, 2.4, true, 1.35);
}

// ---------------- axes ----------------
function styleAxis(g) {
  g.select(".domain").remove();
  g.attr("font-family", FONT).attr("font-size", 39);
  g.selectAll(".tick line").attr("stroke", "#000").attr("stroke-width", 3);
  g.selectAll(".tick text").attr("fill", "#000");
  return g;
}

// x ticks on every panel floor, labels only on the last one
Object.entries(panels).forEach(([k, p]) => {
  const last = k === "rate";
  const ax = d3.axisBottom(x).tickValues(xTickValues).tickSize(-17).tickPadding(29);
  if (!last) ax.tickFormat("");
  styleAxis(svg.append("g").attr("transform", `translate(0,${p.bottom})`).call(ax));
});

// linear y axes
const fmt1 = d => d === 0 ? "0" : d3.format(".1f")(d);
styleAxis(svg.append("g").attr("transform", `translate(${X0},0)`)
  .call(d3.axisLeft(yPhase).tickValues([0.2, 0, -0.2, -0.4, -0.6]).tickSize(-16).tickPadding(22).tickFormat(fmt1)));
styleAxis(svg.append("g").attr("transform", `translate(${X0},0)`)
  .call(d3.axisLeft(yNu).tickValues([20, 0, -20]).tickSize(-16).tickPadding(22).tickFormat(d3.format("d"))));

// log y axes
function logAxis(scale, majors, labels) {
  const isMajor = v => majors.some(m => Math.abs(Math.log10(v) - Math.log10(m)) < 1e-6);
  const minors = scale.ticks().filter(v => !isMajor(v));
  styleAxis(svg.append("g").attr("transform", `translate(${X0},0)`)
    .call(d3.axisLeft(scale).tickValues(minors).tickSize(-10).tickFormat("")));
  styleAxis(svg.append("g").attr("transform", `translate(${X0},0)`)
    .call(d3.axisLeft(scale).tickValues(majors).tickSize(-17).tickFormat("")));
  const t = svg.append("g").selectAll("text").data(majors).join("text")
    .attr("x", X0 - 22).attr("y", d => scale(d) + 15).attr("text-anchor", "end")
    .attr("font-size", 39).attr("fill", "#000");
  t.each(function (d, i) {
    const el = d3.select(this);
    el.append("tspan").text(labels[i][0]);
    if (labels[i][1]) el.append("tspan").attr("dy", -15).attr("font-size", 25).text(labels[i][1]);
  });
}
logAxis(yDot, [1e-9, 1e-10, 1e-11, 1e-12], [["10", "\u22129"], ["10", "\u221210"], ["10", "\u221211"], ["10", "\u221212"]]);
logAxis(yBurst, [1, 0.1, 0.01], [["10", "\u22120"], ["10", "\u22121"], ["10", "\u22122"]]);
logAxis(yRate, [10, 1], [["10", ""], ["1", ""]]);

// frame lines
svg.append("line").attr("x1", X0).attr("x2", X0).attr("y1", 14).attr("y2", 2254.5)
  .attr("stroke", "#000").attr("stroke-width", 3);
Object.values(panels).forEach(p => {
  svg.append("line").attr("x1", X0 - 1.5).attr("x2", X1).attr("y1", p.bottom).attr("y2", p.bottom)
    .attr("stroke", "#000").attr("stroke-width", 3);
});

// ---------------- event markers ----------------
svg.append("line").attr("x1", x(glitchTimes[0])).attr("x2", x(glitchTimes[0]))
  .attr("y1", 17).attr("y2", 2255).attr("stroke", BLUE).attr("stroke-width", 14);
svg.append("line").attr("x1", x(frbTime)).attr("x2", x(frbTime))
  .attr("y1", 17).attr("y2", 2242).attr("stroke", RED).attr("stroke-width", 15);
svg.append("line").attr("x1", x(dottedTime)).attr("x2", x(dottedTime))
  .attr("y1", 17).attr("y2", 2243).attr("stroke", DOTS).attr("stroke-width", 4.5)
  .attr("stroke-dasharray", "7 10.5");
svg.append("line").attr("x1", x(glitchTimes[1])).attr("x2", x(glitchTimes[1]))
  .attr("y1", 17).attr("y2", 2239).attr("stroke", BLUE).attr("stroke-width", 14);

// ---------------- callouts ----------------
function callout(color, rect, tri, label, tx, ty, fs, tl) {
  const g = svg.append("g");
  g.append("rect").attr("x", rect[0]).attr("y", rect[1]).attr("width", rect[2]).attr("height", rect[3])
    .attr("rx", 14).attr("fill", color);
  g.append("path").attr("d", "M" + tri.map(p => p.join(",")).join("L") + "Z").attr("fill", color);
  g.append("text").attr("x", tx).attr("y", ty).attr("font-family", CALLOUT_FONT)
    .attr("font-size", fs).attr("font-weight", 500)
    .attr("fill", "#fff").attr("textLength", tl).attr("lengthAdjust", "spacingAndGlyphs").text(label);
}
callout(BLUE, [340, 1195, 893, 222], [[1144, 1196], [1332, 1155], [1232, 1235]], "Spin-up Glitch", 388, 1342, 121, 798);
callout(BLUE, [1664, 971, 950, 223], [[1598, 908], [1665, 1019], [1713, 972]], "Spin-up Glitch", 1711, 1119, 121, 796);
callout(RED, [1519, 1472, 411, 221], [[1459, 1413], [1566, 1473], [1520, 1521]], "FRB", 1617, 1617, 116, 218);

// ---------------- legend ----------------
{
  const g = svg.append("g");
  g.append("line").attr("x1", 2190.5).attr("x2", 2190.5).attr("y1", 51).attr("y2", 102)
    .attr("stroke", NICER).attr("stroke-width", 2.5);
  g.append("ellipse").attr("cx", 2190.5).attr("cy", 76).attr("rx", 10.5).attr("ry", 11.5).attr("fill", NICER);
  g.append("text").attr("x", 2229).attr("y", 95).attr("font-size", 42).attr("fill", "#000").text("NICER");
  g.append("line").attr("x1", 2190.5).attr("x2", 2190.5).attr("y1", 121).attr("y2", 170)
    .attr("stroke", NUSTAR).attr("stroke-width", 2.5);
  g.append("rect").attr("x", 2182).attr("y", 137).attr("width", 17).attr("height", 18).attr("fill", NUSTAR);
  g.append("text").attr("x", 2229).attr("y", 161).attr("font-size", 42).attr("fill", "#000").text("NuSTAR");
}

// ---------------- titles ----------------
function vTitle(text, xb, yc) {
  svg.append("text").attr("transform", `translate(${xb},${yc}) rotate(-90)`)
    .attr("text-anchor", "middle").attr("font-size", 87).attr("fill", "#000").text(text);
}
vTitle("Phase (cycle)", 218, 367);
vTitle("v-307,530", 116, 892);
vTitle("(\u03bcHz)", 220, 895);
vTitle("dot(nu)", 116, 1297);
vTitle("(Hz/s)", 220, 1296);
vTitle("Burst", 112, 1644);
vTitle("per min", 220, 1643);
vTitle("Rate", 112, 2084);
vTitle("(count/s)", 220, 2090);
svg.append("text").attr("x", 10).attr("y", 1758).attr("font-size", 100).attr("fill", "#231815").text("g");

svg.append("text").attr("x", 1545).attr("y", 2463).attr("text-anchor", "middle")
  .attr("font-size", 106).attr("fill", "#000").text("Time (hours since the FRB)");
</script>
</body>
</html>
